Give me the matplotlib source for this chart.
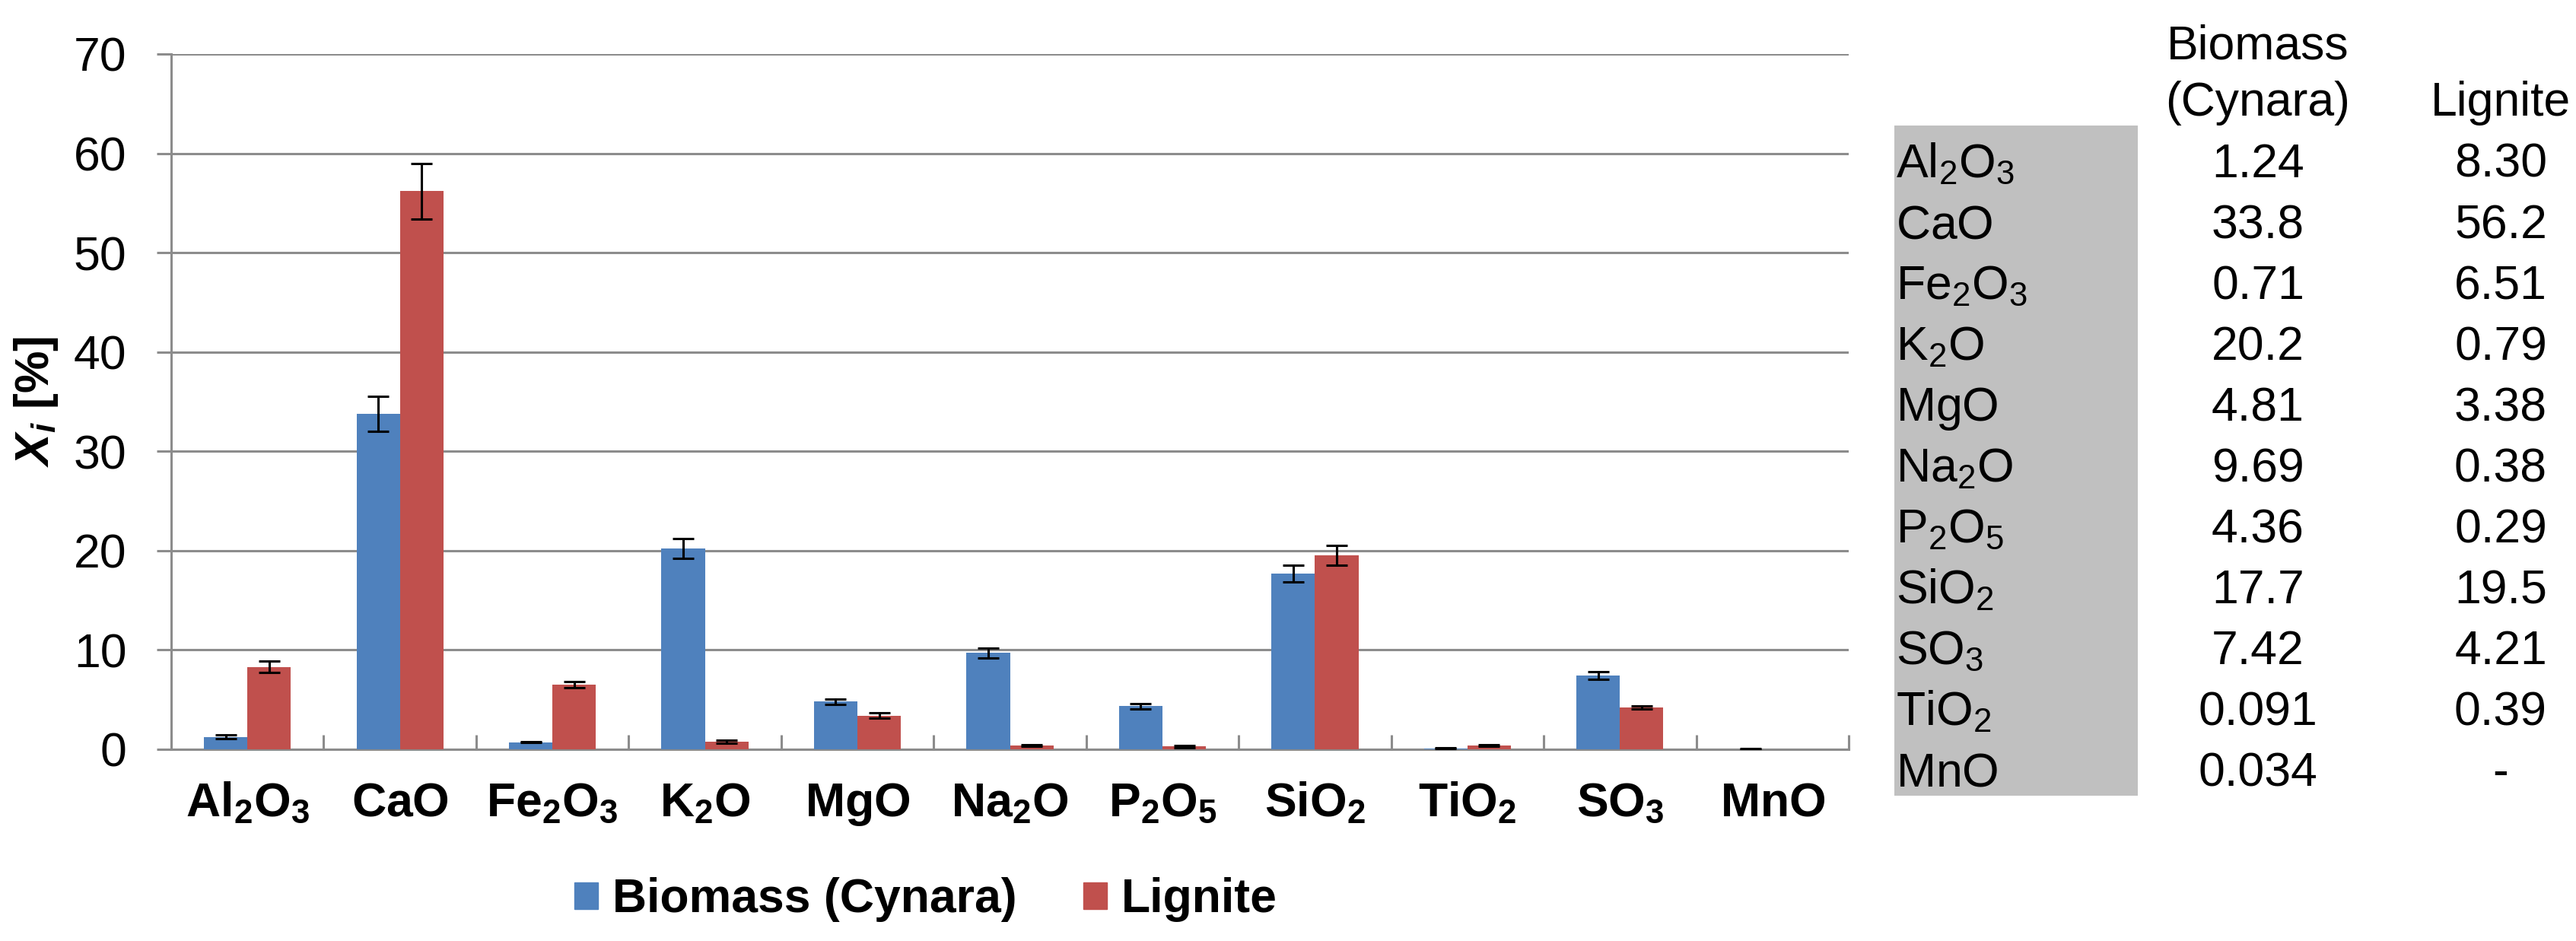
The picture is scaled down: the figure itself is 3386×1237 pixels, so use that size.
import numpy as np
import matplotlib
matplotlib.use("Agg")
import matplotlib.pyplot as plt
from matplotlib.patches import Rectangle, Patch

plt.rcParams['font.family'] = ['Liberation Sans', 'DejaVu Sans']
plt.rcParams['mathtext.fontset'] = 'custom'
plt.rcParams['mathtext.rm'] = 'Liberation Sans'
plt.rcParams['mathtext.bf'] = 'Liberation Sans:bold'
plt.rcParams['mathtext.it'] = 'Liberation Sans:italic'
plt.rcParams['mathtext.bfit'] = 'Liberation Sans:bold:italic'

# ---- data (bar chart) ----
categories = ['Al_2O_3', 'CaO', 'Fe_2O_3', 'K_2O', 'MgO', 'Na_2O', 'P_2O_5',
              'SiO_2', 'TiO_2', 'SO_3', 'MnO']
biomass = [1.24, 33.8, 0.71, 20.2, 4.81, 9.69, 4.36, 17.7, 0.091, 7.42, 0.034]
lignite = [8.30, 56.2, 6.51, 0.79, 3.38, 0.38, 0.29, 19.5, 0.39, 4.21, np.nan]
biomass_err = [0.2, 1.75, 0.05, 1.0, 0.27, 0.48, 0.27, 0.85, 0.03, 0.38, 0.02]
lignite_err = [0.55, 2.8, 0.3, 0.15, 0.27, 0.05, 0.1, 1.0, 0.05, 0.15, np.nan]
series_names = ['Biomass (Cynara)', 'Lignite']
yticks = [0, 10, 20, 30, 40, 50, 60, 70]

# ---- data (side table, its own row order) ----
table_rows = ['Al_2O_3', 'CaO', 'Fe_2O_3', 'K_2O', 'MgO', 'Na_2O', 'P_2O_5',
              'SiO_2', 'SO_3', 'TiO_2', 'MnO']
table_biomass = ['1.24', '33.8', '0.71', '20.2', '4.81', '9.69', '4.36',
                 '17.7', '7.42', '0.091', '0.034']
table_lignite = ['8.30', '56.2', '6.51', '0.79', '3.38', '0.38', '0.29',
                 '19.5', '4.21', '0.39', '-']

# ---- style ----
W, H = 3386, 1237
DPI = 100
FS = 45
BLUE = '#4F81BD'
RED = '#C0504D'
GRID = '#8C8C8C'
TABLE_GREY = '#C0C0C0'

fig = plt.figure(figsize=(W / DPI, H / DPI), dpi=DPI)
ax = fig.add_axes([225 / W, 1 - 985 / H, (2430 - 225) / W, (985 - 71) / H])

x = np.arange(len(categories))
bw = 0.285
ekw = dict(elinewidth=2.2, capthick=2.2, ecolor='black')
ax.bar(x - bw / 2, biomass, bw, color=BLUE, yerr=biomass_err, capsize=10,
       error_kw=ekw, zorder=3, label=series_names[0])
ax.bar(x + bw / 2, lignite, bw, color=RED, yerr=lignite_err, capsize=10,
       error_kw=ekw, zorder=3, label=series_names[1])

ax.set_xlim(-0.5, len(categories) - 0.5)
ax.set_ylim(0, 70)
ax.set_yticks(yticks)
ax.set_yticklabels([str(v) for v in yticks], fontsize=FS)
ax.yaxis.grid(True, color=GRID, linewidth=2.2, zorder=0)
ax.set_axisbelow(True)

ax.set_xticks(x)
ax.set_xticklabels([r'$\mathbf{' + c + '}$' for c in categories], fontsize=FS)
ax.set_xticks(np.arange(-0.5, len(categories)), minor=True)
ax.tick_params(axis='x', which='major', length=0, pad=30)
ax.tick_params(axis='x', which='minor', direction='in', length=14, width=2.2,
               color=GRID)
ax.tick_params(axis='y', which='major', direction='out', length=14, width=2.2,
               color=GRID, pad=28)

for s in ['top', 'right']:
    ax.spines[s].set_visible(False)
for s in ['left', 'bottom']:
    ax.spines[s].set_color(GRID)
    ax.spines[s].set_linewidth(2.2)

ax.set_ylabel(r'$\mathbfit{X_i}$ [%]', fontsize=FS, fontweight='bold')
ax.yaxis.set_label_coords(-0.066, 0.5)

# legend
handles = [Patch(color=BLUE), Patch(color=RED)]
fig.legend(handles, series_names, loc='center',
           bbox_to_anchor=(1217 / W, 1 - 1183 / H), ncol=2, frameon=False,
           prop=dict(size=FS, weight='bold'), handlelength=0.5,
           handleheight=0.5, handletextpad=0.3, columnspacing=1.4)

# ---- table ----
fig.patches.append(Rectangle((2490 / W, 1 - 1046 / H), 320 / W, 881 / H,
                             transform=fig.transFigure, facecolor=TABLE_GREY,
                             edgecolor='none', zorder=0))
col_b = 2968 / W
col_l = 3287 / W
fig.text(col_b, 1 - 77 / H, 'Biomass', fontsize=FS, ha='center', va='baseline')
fig.text(col_b, 1 - 152 / H, '(Cynara)', fontsize=FS, ha='center', va='baseline')
fig.text(col_l, 1 - 152 / H, 'Lignite', fontsize=FS, ha='center', va='baseline')
for k, c in enumerate(table_rows):
    yb = 1 - (233 + 80 * k) / H
    fig.text(2492 / W, yb, r'$\mathrm{' + c + '}$', fontsize=FS, ha='left',
             va='baseline')
    fig.text(col_b, yb, table_biomass[k], fontsize=FS, ha='center', va='baseline')
    fig.text(col_l, yb, table_lignite[k], fontsize=FS, ha='center', va='baseline')

fig.savefig('out.png', dpi=DPI)
